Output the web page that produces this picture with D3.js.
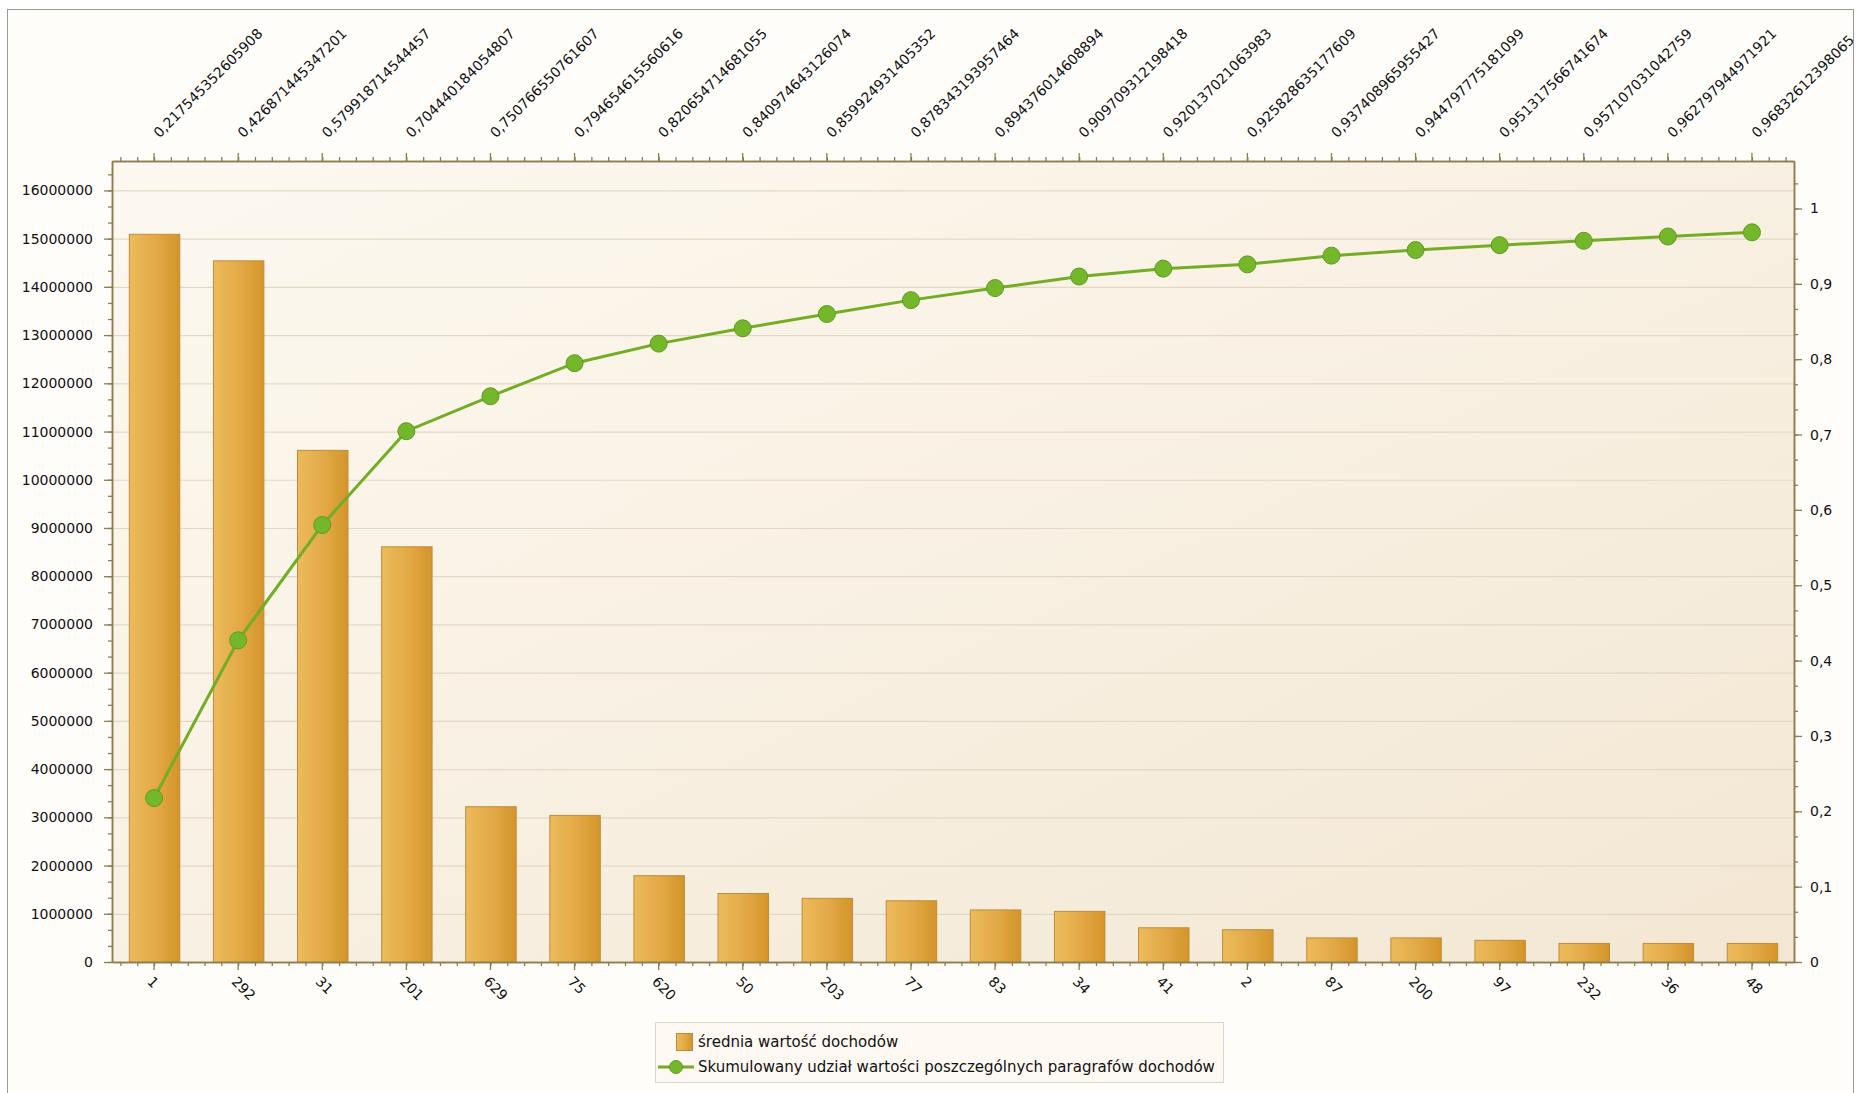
<!DOCTYPE html>
<html>
<head>
<meta charset="utf-8">
<script src="https://cdn.jsdelivr.net/npm/d3@7"></script>
<style>
  body { margin: 0; background: #fff; }
  svg { display: block; font-family: "DejaVu Sans", Verdana, sans-serif; }
</style>
</head>
<body>
<div id="chart"></div>
<script>
// categories (paragraph numbers)
var categories = ["1", "292", "31", "201", "629", "75", "620", "50", "203", "77",
                  "83", "34", "41", "2", "87", "200", "97", "232", "36", "48"];

// średnia wartość dochodów
var avgIncome = [15100000, 14550000, 10620000, 8620000, 3230000, 3050000, 1800000, 1430000, 1330000, 1280000,
                 1090000, 1060000, 720000, 680000, 510000, 510000, 460000, 395000, 395000, 395000];

// skumulowany udział (also shown as top axis labels)
var cumShare = [0.217545352605908, 0.426871445347201, 0.579918714544457, 0.704440184054807, 0.750766550761607,
                0.794654615560616, 0.820654714681055, 0.840974643126074, 0.859924931405352, 0.878343193957464,
                0.894376014608894, 0.909709312198418, 0.920137021063983, 0.925828635177609, 0.937408965955427,
                0.944797775181099, 0.951317566741674, 0.957107031042759, 0.962797944971921, 0.96832612398065];

var leftTicks = d3.range(0, 16000001, 1000000);
var rightTicks = d3.range(0, 11).map(function(d) { return d / 10; });

var legendLabels = ["średnia wartość dochodów",
                    "Skumulowany udział wartości poszczególnych paragrafów dochodów"];

var W = 1874, H = 1093;
// note: "top" is a reserved window prop, so use plot* names
var plotLeft = 112, plotRight = 1794, plotTop = 161, plotBottom = 962;
var axisColor = "#8c7d50";

var svg = d3.select("#chart").append("svg")
  .attr("width", W).attr("height", H);

var defs = svg.append("defs");
var bg = defs.append("linearGradient").attr("id", "plotbg")
  .attr("x1", 0).attr("y1", 0).attr("x2", 1).attr("y2", 1);
bg.append("stop").attr("offset", "0%").attr("stop-color", "#fdf9f1");
bg.append("stop").attr("offset", "100%").attr("stop-color", "#f3e7d3");

var barG = defs.append("linearGradient").attr("id", "bargrad")
  .attr("x1", 0).attr("y1", 0).attr("x2", 1).attr("y2", 0);
barG.append("stop").attr("offset", "0%").attr("stop-color", "#ecbb5c");
barG.append("stop").attr("offset", "55%").attr("stop-color", "#e2a845");
barG.append("stop").attr("offset", "100%").attr("stop-color", "#d3942a");

// outer frame
svg.append("rect")
  .attr("x", 7.5).attr("y", 9.5).attr("width", 1846).attr("height", 1100)
  .attr("fill", "#fffdfa").attr("stroke", "#9a9a9a");

// plot area
svg.append("rect")
  .attr("x", plotLeft).attr("y", plotTop)
  .attr("width", plotRight - plotLeft).attr("height", plotBottom - plotTop)
  .attr("fill", "url(#plotbg)");

var x = d3.scaleBand().domain(categories).range([plotLeft, plotRight])
  .paddingInner(0.4).paddingOuter(0.2);
var xl = d3.scaleLinear().domain([0, categories.length]).range([plotLeft, plotRight]);
var yL = d3.scaleLinear().domain([0, 16610000]).range([plotBottom, plotTop]);
var yR = d3.scaleLinear().domain([0, 1.063]).range([plotBottom, plotTop]);

// gridlines
svg.append("g").selectAll("line").data(leftTicks.slice(1)).enter().append("line")
  .attr("x1", plotLeft).attr("x2", plotRight)
  .attr("y1", function(d) { return yL(d) + 0.5; })
  .attr("y2", function(d) { return yL(d) + 0.5; })
  .attr("stroke", "#e3d8c6").attr("stroke-width", 1.2);

// bars
svg.append("g").selectAll("rect").data(avgIncome).enter().append("rect")
  .attr("x", function(d, i) { return x(categories[i]) + 0.5; })
  .attr("y", function(d) { return yL(d) + 0.5; })
  .attr("width", x.bandwidth())
  .attr("height", function(d) { return plotBottom - yL(d); })
  .attr("fill", "url(#bargrad)")
  .attr("stroke", "#c08c38").attr("stroke-width", 1);

// axes
function styleAxis(g) {
  g.select(".domain").attr("stroke", axisColor).attr("stroke-width", 1.5);
  g.selectAll(".tick line").attr("stroke", axisColor).attr("stroke-width", 1.3);
  g.selectAll("text").attr("fill", "#111").style("font-size", "14px")
    .style("font-family", "'DejaVu Sans', Verdana, sans-serif");
}

var minorX = d3.range(0.1, categories.length, 0.2);

// bottom axis
svg.append("g").attr("transform", "translate(0," + plotBottom + ")")
  .call(d3.axisBottom(xl).tickValues(minorX).tickSize(4).tickFormat("").tickSizeOuter(0))
  .call(styleAxis);
var bx = svg.append("g").attr("transform", "translate(0," + plotBottom + ")")
  .call(d3.axisBottom(x).tickSize(8).tickSizeOuter(0))
  .call(styleAxis);
bx.selectAll("text")
  .attr("x", 0).attr("y", 0).attr("dy", "0.35em")
  .attr("text-anchor", "start")
  .attr("transform", "translate(-4,17) rotate(45)");

// top axis
svg.append("g").attr("transform", "translate(0," + plotTop + ")")
  .call(d3.axisTop(xl).tickValues(minorX).tickSize(4).tickFormat("").tickSizeOuter(0))
  .call(styleAxis);
var tx = svg.append("g").attr("transform", "translate(0," + plotTop + ")")
  .call(d3.axisTop(x).tickSize(8).tickSizeOuter(0)
    .tickFormat(function(d, i) { return String(cumShare[i]).replace(".", ","); }))
  .call(styleAxis);
tx.selectAll("text")
  .attr("x", 0).attr("y", 0).attr("dy", "0.35em")
  .attr("text-anchor", "start")
  .attr("transform", "translate(2,-26) rotate(-45)");

// left axis
svg.append("g").attr("transform", "translate(" + plotLeft + ",0)")
  .call(d3.axisLeft(yL).tickValues(d3.range(0, 16610000, 1000000 / 3)).tickSize(4).tickFormat("").tickSizeOuter(0))
  .call(styleAxis);
svg.append("g").attr("transform", "translate(" + plotLeft + ",0)")
  .call(d3.axisLeft(yL).tickValues(leftTicks).tickSize(8).tickPadding(11)
    .tickFormat(d3.format("d")).tickSizeOuter(0))
  .call(styleAxis);

// right axis
svg.append("g").attr("transform", "translate(" + plotRight + ",0)")
  .call(d3.axisRight(yR).tickValues(d3.range(0, 1.063, 0.1 / 3)).tickSize(4).tickFormat("").tickSizeOuter(0))
  .call(styleAxis);
svg.append("g").attr("transform", "translate(" + plotRight + ",0)")
  .call(d3.axisRight(yR).tickValues(rightTicks).tickSize(8).tickPadding(8)
    .tickFormat(function(d) { return String(d).replace(".", ","); }).tickSizeOuter(0))
  .call(styleAxis);

// cumulative line
var line = d3.line()
  .x(function(d, i) { return x(categories[i]) + x.bandwidth() / 2; })
  .y(function(d) { return yR(d); });

svg.append("path").datum(cumShare)
  .attr("d", line)
  .attr("fill", "none").attr("stroke", "#72ad25").attr("stroke-width", 3);

svg.append("g").selectAll("circle").data(cumShare).enter().append("circle")
  .attr("cx", function(d, i) { return x(categories[i]) + x.bandwidth() / 2; })
  .attr("cy", function(d) { return yR(d); })
  .attr("r", 8.5)
  .attr("fill", "#74b72b").attr("stroke", "#5f9a22").attr("stroke-width", 1);

// legend
var lg = svg.append("g");
lg.append("rect").attr("x", 655.5).attr("y", 1022.5).attr("width", 568).attr("height", 60)
  .attr("fill", "#fdf9f2").attr("stroke", "#e0d6c8");
lg.append("rect").attr("x", 676.5).attr("y", 1033.5).attr("width", 16).attr("height", 17)
  .attr("fill", "url(#bargrad)").attr("stroke", "#c08c38");
lg.append("line").attr("x1", 658).attr("x2", 694).attr("y1", 1067).attr("y2", 1067)
  .attr("stroke", "#72ad25").attr("stroke-width", 3);
lg.append("circle").attr("cx", 676).attr("cy", 1067).attr("r", 6.5)
  .attr("fill", "#74b72b").attr("stroke", "#5f9a22");
lg.selectAll("text").data(legendLabels).enter().append("text")
  .attr("x", 698)
  .attr("y", function(d, i) { return 1042 + i * 25; })
  .attr("dy", "0.35em")
  .attr("fill", "#111")
  .style("font-size", "15px")
  .text(function(d) { return d; });
</script>
</body>
</html>
